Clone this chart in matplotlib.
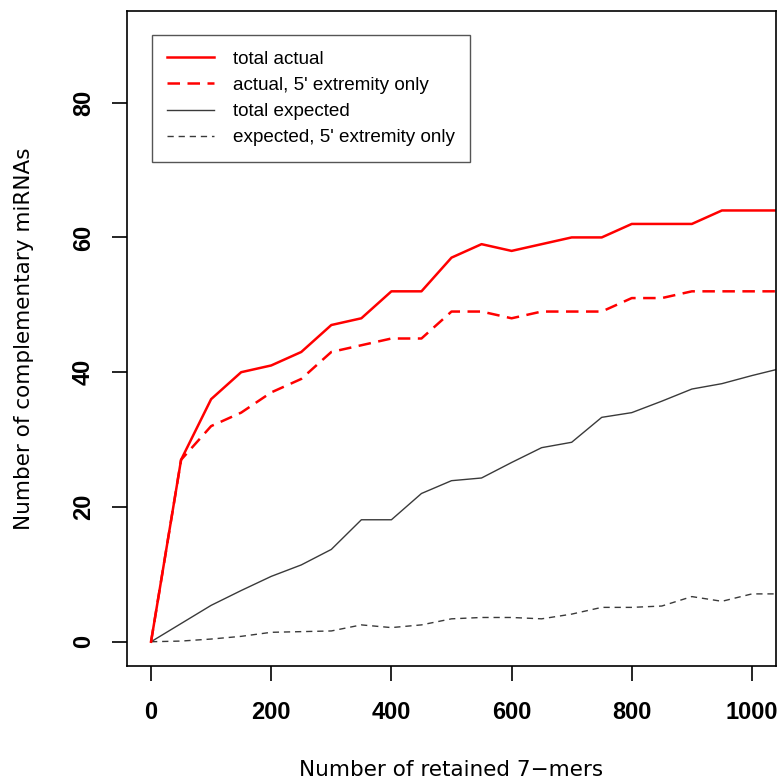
import matplotlib
matplotlib.use("Agg")
import matplotlib.pyplot as plt
import numpy as np

plt.rcParams['font.family'] = ['Liberation Sans', 'DejaVu Sans']

# number of retained 7-mers
n_kmers = np.arange(0, 1051, 50)

total_actual = [0, 27, 36, 40, 41, 43, 47, 48, 52, 52, 57, 59, 58, 59, 60, 60,
                62, 62, 62, 64, 64, 64]
actual_5p = [0, 27, 32, 34, 37, 39, 43, 44, 45, 45, 49, 49, 48, 49, 49, 49,
             51, 51, 52, 52, 52, 52]
total_expected = [0, 2.7, 5.4, 7.6, 9.7, 11.4, 13.7, 18.1, 18.1, 22.0, 23.9,
                  24.3, 26.6, 28.8, 29.6, 33.3, 34.0, 35.7, 37.5, 38.3, 39.5, 40.6]
expected_5p = [0, 0.1, 0.4, 0.8, 1.4, 1.5, 1.6, 2.5, 2.1, 2.5, 3.4, 3.6, 3.6,
               3.4, 4.1, 5.1, 5.1, 5.3, 6.7, 6.0, 7.1, 7.1]

fig = plt.figure(figsize=(7.83, 7.84), dpi=100)
ax = fig.add_axes([127/783, 1 - 666/784, 649/783, 655/784])

grey = "#3a3a3a"
ax.plot(n_kmers, expected_5p, color=grey, lw=1.0, dashes=(4.5, 3.5),
        label="expected, 5' extremity only")
ax.plot(n_kmers, total_expected, color=grey, lw=1.0, label="total expected")
ax.plot(n_kmers, actual_5p, color="red", lw=1.8, dashes=(5, 3),
        label="actual, 5' extremity only")
ax.plot(n_kmers, total_actual, color="red", lw=1.8, label="total actual")

ax.set_xlim(-40, 1040)
ax.set_ylim(-3.6, 93.6)
ax.set_xticks([0, 200, 400, 600, 800, 1000])
ax.set_yticks([0, 20, 40, 60, 80])

ax.tick_params(direction="out", length=11, width=1.2, pad=14, labelsize=17)
ax.tick_params(axis="y", pad=12)
for lab in ax.get_xticklabels() + ax.get_yticklabels():
    lab.set_fontweight("bold")
for lab in ax.get_yticklabels():
    lab.set_rotation(90)
    lab.set_va("center")
for s in ax.spines.values():
    s.set_linewidth(1.2)

ax.set_xlabel("Number of retained 7\u2212mers", fontsize=15.5,
              family=["DejaVu Sans"], va="center")
ax.set_ylabel("Number of complementary miRNAs", fontsize=15.5,
              family=["DejaVu Sans"], va="center", ha="center")
ax.xaxis.set_label_coords(0.5, (666 - 770) / 655)
ax.yaxis.set_label_coords((24 - 127) / 649, 0.5)

h, l = ax.get_legend_handles_labels()
leg = ax.legend(h[::-1], l[::-1], loc="upper left", bbox_to_anchor=(0.038, 0.963),
                fontsize=13.6, fancybox=False, framealpha=1, edgecolor="#555555",
                handlelength=2.5, handletextpad=1.0, labelspacing=0.48,
                borderpad=0.8, borderaxespad=0)
leg.get_frame().set_linewidth(1.0)

fig.savefig("out.png", dpi=100)
